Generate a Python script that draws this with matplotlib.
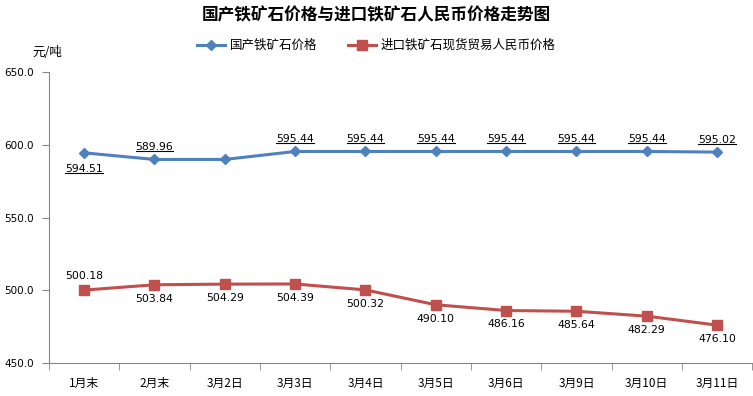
import matplotlib
matplotlib.use("Agg")
import matplotlib.pyplot as plt
from matplotlib.lines import Line2D
import numpy as np

plt.rcParams['font.family'] = ['Noto Sans CJK SC', 'DejaVu Sans']

# 数据
categories = ["1月末", "2月末", "3月2日", "3月3日", "3月4日",
              "3月5日", "3月6日", "3月9日", "3月10日", "3月11日"]
domestic = [594.51, 589.96, 589.96, 595.44, 595.44,
            595.44, 595.44, 595.44, 595.44, 595.02]
domestic_labels = ["594.51", "589.96", "", "595.44", "595.44",
                   "595.44", "595.44", "595.44", "595.44", "595.02"]
imported = [500.18, 503.84, 504.29, 504.39, 500.32,
            490.10, 486.16, 485.64, 482.29, 476.10]
yticks = [450.0, 500.0, 550.0, 600.0, 650.0]

blue = "#4F81BD"
red = "#C0504D"
axis_color = "#868686"

fig = plt.figure(figsize=(7.53, 3.96), dpi=100)
ax = fig.add_axes([0.065, 0.083, 0.934, 0.735])

x = np.arange(len(categories))
ax.plot(x, domestic, color=blue, lw=2.2, marker="D", ms=5.5,
        label="国产铁矿石价格", zorder=3)
ax.plot(x, imported, color=red, lw=2.2, marker="s", ms=7,
        label="进口铁矿石现货贸易人民币价格", zorder=3)

# 数据标签
num_font = dict(family="DejaVu Sans", fontsize=7.8, color="black")
blue_texts = []
for i, (v, lab) in enumerate(zip(domestic, domestic_labels)):
    if not lab:
        continue
    dy = -12 if i == 0 else 9
    t = ax.annotate(lab, (x[i], v), xytext=(0, dy), textcoords="offset points",
                    ha="center", va="center", **num_font)
    blue_texts.append(t)

for i, v in enumerate(imported):
    dy = 10 if i == 0 else -10
    ax.annotate(f"{v:.2f}", (x[i], v), xytext=(0, dy), textcoords="offset points",
                ha="center", va="center", **num_font)

ax.set_xlim(-0.5, len(categories) - 0.5)
ax.set_ylim(450, 650)
ax.set_yticks(yticks)
ax.set_yticklabels([f"{v:.1f}" for v in yticks], family="DejaVu Sans", fontsize=7.5)
ax.set_xticks(x)
ax.set_xticklabels(categories, fontsize=8.5)
ax.set_xticks(np.arange(-0.5, len(categories)), minor=True)
ax.tick_params(axis="x", which="major", length=0, pad=10)
ax.tick_params(axis="x", which="minor", length=5, color=axis_color, direction="out")
ax.tick_params(axis="y", length=5, color=axis_color, direction="out", pad=6)

for side in ["top", "right"]:
    ax.spines[side].set_visible(False)
for side in ["left", "bottom"]:
    ax.spines[side].set_color(axis_color)

fig.text(0.5, 0.962, "国产铁矿石价格与进口铁矿石人民币价格走势图",
         ha="center", va="center", fontsize=12, fontweight="bold")
fig.text(0.043, 0.868, "元/吨", ha="left", va="center", fontsize=9)

fig.legend(loc="center", bbox_to_anchor=(0.5, 0.885), ncol=2, frameon=False,
           fontsize=9, handlelength=2.2, columnspacing=2.5, handletextpad=0.4)

# 国产价格标签加下划线
fig.canvas.draw()
renderer = fig.canvas.get_renderer()
inv = fig.transFigure.inverted()
for t in blue_texts:
    bb = t.get_window_extent(renderer)
    (x0, y0), (x1, _) = inv.transform([[bb.x0, bb.y0 + 1], [bb.x1, bb.y1]])
    fig.add_artist(Line2D([x0, x1], [y0, y0], transform=fig.transFigure,
                          color="black", lw=0.8))

fig.savefig("out.png", dpi=100)
